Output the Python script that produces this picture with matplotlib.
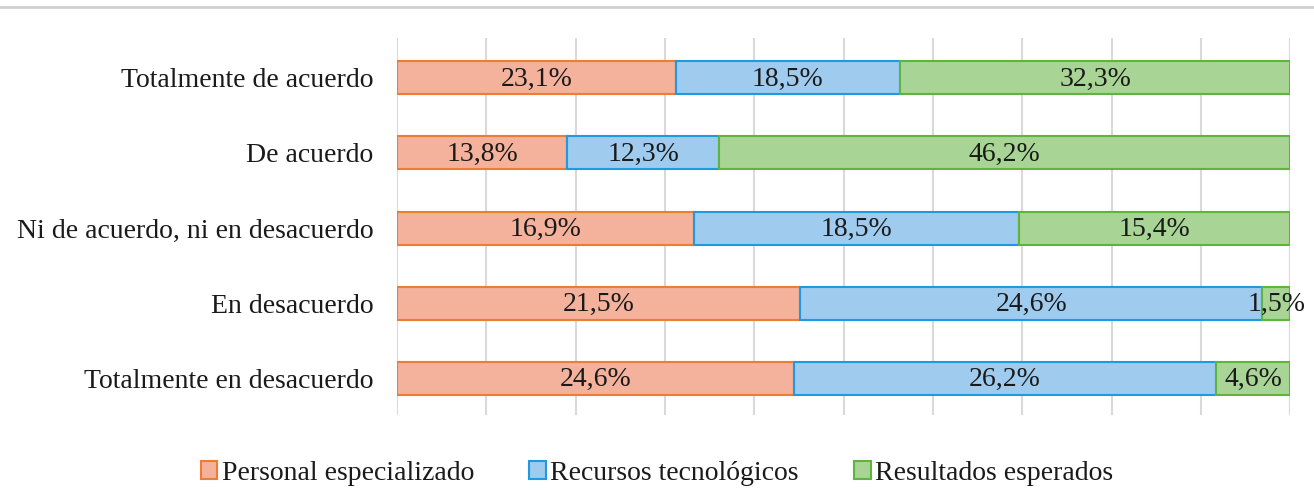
import matplotlib.pyplot as plt
import numpy as np

plt.rcParams['font.family'] = ['Liberation Serif', 'DejaVu Serif']

categorias = ['Totalmente de acuerdo', 'De acuerdo', 'Ni de acuerdo, ni en desacuerdo',
              'En desacuerdo', 'Totalmente en desacuerdo']
series = ['Personal especializado', 'Recursos tecnológicos', 'Resultados esperados']
personal = [23.1, 13.8, 16.9, 21.5, 24.6]
recursos = [18.5, 12.3, 18.5, 24.6, 26.2]
resultados = [32.3, 46.2, 15.4, 1.5, 4.6]

fills = ['#F4B19C', '#9FCBEF', '#A8D595']
edges = ['#ED7D31', '#1E9BE0', '#5FB43C']

datos = np.array([personal, recursos, resultados])
totales = datos.sum(axis=0)
frac = datos / totales * 100

fig = plt.figure(figsize=(13.14, 4.93), dpi=100)
ax = fig.add_axes([0.302, 0.158, 0.68, 0.765])

y = np.arange(len(categorias))[::-1]
left = np.zeros(len(categorias))
for i in range(3):
    bars = ax.barh(y, frac[i], left=left, height=0.44, color=fills[i],
                   edgecolor=edges[i], linewidth=1.5, label=series[i], zorder=3)
    for j, b in enumerate(bars):
        txt = f"{datos[i][j]:.1f}%".replace('.', ',')
        ax.text(left[j] + frac[i][j] / 2, y[j] - 0.02, txt, ha='center', va='center',
                fontsize=20, color='#1a1a1a', zorder=4)
    left += frac[i]

ax.set_xlim(0, 100)
ax.set_ylim(-0.49, 4.53)
ax.set_xticks(np.arange(0, 101, 10))
ax.set_xticklabels([])
ax.tick_params(axis='both', length=0)
ax.xaxis.grid(True, color='#D9D9D9', linewidth=1.5, zorder=0)
ax.set_yticks(y)
ax.set_yticklabels(categorias, fontsize=20, color='#1a1a1a')
ax.tick_params(axis='y', pad=17)
for s in ax.spines.values():
    s.set_visible(False)

fig.add_artist(plt.Line2D([0, 1], [0.985, 0.985], color='#D0D0D0', linewidth=2))

fig.legend(loc='lower center', bbox_to_anchor=(0.5, -0.036), ncol=3, frameon=False,
           fontsize=20, handlelength=0.6, handleheight=0.6, handletextpad=0.15,
           columnspacing=2.0, labelcolor='#1a1a1a')

fig.savefig('out.png', dpi=100)
